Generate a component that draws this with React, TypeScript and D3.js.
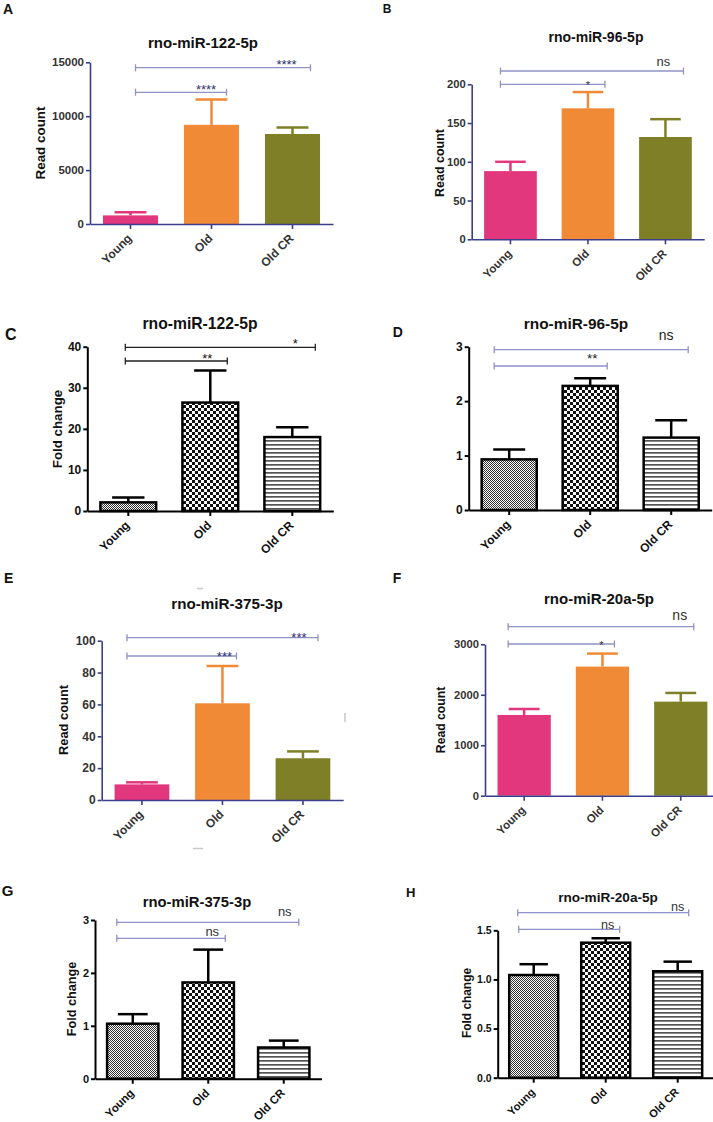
import React, { useRef, useEffect } from "react";
import * as d3 from "d3";

const groups = ["Young", "Old", "Old CR"];

// A: rno-miR-122-5p, read count
const read122 = [800, 9200, 8350];
const read122Sem = [300, 2350, 600];
const read122Ticks = [0, 5000, 10000, 15000];
const read122Sig = ["****", "****"];

// B: rno-miR-96-5p, read count
const read96 = [88, 169, 132];
const read96Sem = [12, 21, 23];
const read96Ticks = [0, 50, 100, 150, 200];
const read96Sig = ["*", "ns"];

// C: rno-miR-122-5p, fold change
const fold122 = [2.1, 26.4, 18.0];
const fold122Sem = [1.2, 7.8, 2.4];
const fold122Ticks = [0, 10, 20, 30, 40];
const fold122Sig = ["**", "*"];

// D: rno-miR-96-5p, fold change
const fold96 = [0.93, 2.28, 1.33];
const fold96Sem = [0.18, 0.14, 0.32];
const fold96Ticks = [0, 1, 2, 3];
const fold96Sig = ["**", "ns"];

// E: rno-miR-375-3p, read count
const read375 = [9.8, 60.7, 26.2];
const read375Sem = [1.3, 23.4, 4.3];
const read375Ticks = [0, 20, 40, 60, 80, 100];
const read375Sig = ["***", "***"];

// F: rno-miR-20a-5p, read count
const read20a = [1600, 2558, 1864];
const read20aSem = [118, 258, 172];
const read20aTicks = [0, 1000, 2000, 3000];
const read20aSig = ["*", "ns"];

// G: rno-miR-375-3p, fold change
const fold375 = [1.04, 1.82, 0.59];
const fold375Sem = [0.18, 0.62, 0.13];
const fold375Ticks = [0, 1, 2, 3];
const fold375Sig = ["ns", "ns"];

// H: rno-miR-20a-5p, fold change
const fold20a = [1.045, 1.374, 1.083];
const fold20aSem = [0.11, 0.045, 0.098];
const fold20aTicks = [0, 0.5, 1.0, 1.5];
const fold20aSig = ["ns", "ns"];

const barColors = ["#e2377d", "#f08a36", "#7f7f28"];
const navy = "#3a3e8c";
const bracketBlue = "#8e92c6";
const FONT = "'Liberation Sans', Arial, sans-serif";

type Bracket = { y: number; from: number; to: number; lx: number; ly: number; size: number };

interface Panel {
  letter: string; lx: number; ly: number; lsize: number;
  title: string; tx: number; ty: number; tsize: number;
  yLabel: string | null; ylx: number; yly: number; ylsize: number;
  x0: number; step: number; y0: number; yTop: number;
  ticks: number[]; fmt: string; tickSize: number; xlSize: number;
  mean: number[]; sem: number[]; sig: string[];
  pattern: boolean; bracketColor: string; sigColor: string;
  brackets: Bracket[];
}

const panels: Panel[] = [
  {
    letter: "A", lx: 3, ly: 13.5, lsize: 14,
    title: "rno-miR-122-5p", tx: 203, ty: 48, tsize: 15,
    yLabel: "Read count", ylx: 45, yly: 143, ylsize: 13.4,
    x0: 90, step: 81, y0: 224, yTop: 62.3,
    ticks: read122Ticks, fmt: "d", tickSize: 11.5, xlSize: 12,
    mean: read122, sem: read122Sem, sig: read122Sig,
    pattern: false, bracketColor: bracketBlue, sigColor: "#2e3170",
    brackets: [
      { y: 92.3, from: 5, to: 15, lx: -5.5, ly: 1.5, size: 13 },
      { y: 67.7, from: 5, to: 18, lx: -6, ly: 1, size: 13 },
    ],
  },
  {
    letter: "B", lx: 382.7, ly: 12.7, lsize: 12,
    title: "rno-miR-96-5p", tx: 596, ty: 41.7, tsize: 14,
    yLabel: "Read count", ylx: 443.5, yly: 163, ylsize: 12.5,
    x0: 471.7, step: 77.5, y0: 239.3, yTop: 84.3,
    ticks: read96Ticks, fmt: "d", tickSize: 11.2, xlSize: 11.5,
    mean: read96, sem: read96Sem, sig: read96Sig,
    pattern: false, bracketColor: bracketBlue, sigColor: "#333",
    brackets: [
      { y: 84.3, from: -10, to: 17, lx: 0, ly: 4.5, size: 11 },
      { y: 71, from: -10, to: 18, lx: -2, ly: -5, size: 13 },
    ],
  },
  {
    letter: "C", lx: 5, ly: 340, lsize: 16,
    title: "rno-miR-122-5p", tx: 200, ty: 328.5, tsize: 15.7,
    yLabel: "Fold change", ylx: 62, yly: 429, ylsize: 13.3,
    x0: 87.3, step: 82, y0: 511, yTop: 346.7,
    ticks: fold122Ticks, fmt: "d", tickSize: 12, xlSize: 12,
    mean: fold122, sem: fold122Sem, sig: fold122Sig,
    pattern: true, bracketColor: "#222", sigColor: "#111",
    brackets: [
      { y: 361, from: -3, to: 17, lx: -3, ly: 2, size: 13 },
      { y: 347.3, from: -3, to: 23, lx: 3, ly: 0.5, size: 13 },
    ],
  },
  {
    letter: "D", lx: 392.7, ly: 336.7, lsize: 14,
    title: "rno-miR-96-5p", tx: 576, ty: 329.3, tsize: 15.4,
    yLabel: null, ylx: 0, yly: 0, ylsize: 0,
    x0: 468.7, step: 81, y0: 510, yTop: 346.7,
    ticks: fold96Ticks, fmt: "d", tickSize: 12, xlSize: 12,
    mean: fold96, sem: fold96Sem, sig: fold96Sig,
    pattern: true, bracketColor: bracketBlue, sigColor: "#222",
    brackets: [
      { y: 366, from: -15, to: 17, lx: 2, ly: -3, size: 13.5 },
      { y: 349.7, from: -15, to: 17, lx: -5, ly: -9.7, size: 14 },
    ],
  },
  {
    letter: "E", lx: 4, ly: 583.3, lsize: 14,
    title: "rno-miR-375-3p", tx: 227, ty: 609.2, tsize: 15.2,
    yLabel: "Read count", ylx: 68, yly: 720, ylsize: 12.9,
    x0: 101.7, step: 80.5, y0: 800, yTop: 640.7,
    ticks: read375Ticks, fmt: "d", tickSize: 12, xlSize: 12,
    mean: read375, sem: read375Sem, sig: read375Sig,
    pattern: false, bracketColor: bracketBlue, sigColor: "#2e3170",
    brackets: [
      { y: 656, from: -15, to: 14, lx: 2, ly: 5, size: 13 },
      { y: 637.7, from: -15, to: 15, lx: -4, ly: 4.3, size: 13 },
    ],
  },
  {
    letter: "F", lx: 392.7, ly: 583, lsize: 14,
    title: "rno-miR-20a-5p", tx: 599, ty: 604, tsize: 15,
    yLabel: "Read count", ylx: 445, yly: 720, ylsize: 12.2,
    x0: 485, step: 78.3, y0: 795.7, yTop: 644.3,
    ticks: read20aTicks, fmt: "d", tickSize: 11.2, xlSize: 11.5,
    mean: read20a, sem: read20aSem, sig: read20aSig,
    pattern: false, bracketColor: bracketBlue, sigColor: "#333",
    brackets: [
      { y: 644, from: -16, to: 12, lx: -1, ly: 5, size: 11 },
      { y: 626.7, from: -16, to: 13, lx: -1, ly: -6.7, size: 14 },
    ],
  },
  {
    letter: "G", lx: 1.7, ly: 895.5, lsize: 15,
    title: "rno-miR-375-3p", tx: 197, ty: 906.6, tsize: 14.8,
    yLabel: "Fold change", ylx: 76, yly: 999, ylsize: 12.7,
    x0: 95, step: 75.5, y0: 1078.7, yTop: 920,
    ticks: fold375Ticks, fmt: "d", tickSize: 11, xlSize: 11.5,
    mean: fold375, sem: fold375Sem, sig: fold375Sig,
    pattern: true, bracketColor: bracketBlue, sigColor: "#333",
    brackets: [
      { y: 938.3, from: -16, to: 17, lx: 4, ly: -2.6, size: 13 },
      { y: 922.3, from: -16, to: 15, lx: 1, ly: -6.6, size: 13 },
    ],
  },
  {
    letter: "H", lx: 406, ly: 896.7, lsize: 13,
    title: "rno-miR-20a-5p", tx: 608, ty: 901.5, tsize: 13.6,
    yLabel: "Fold change", ylx: 471.4, yly: 1003, ylsize: 11.9,
    x0: 497.7, step: 72, y0: 1077.7, yTop: 930.3,
    ticks: fold20aTicks, fmt: ".1f", tickSize: 10.5, xlSize: 11,
    mean: fold20a, sem: fold20aSem, sig: fold20aSig,
    pattern: true, bracketColor: bracketBlue, sigColor: "#333",
    brackets: [
      { y: 929.3, from: -15, to: 14, lx: 2, ly: -0.6, size: 12.6 },
      { y: 912.7, from: -16, to: 11, lx: 0, ly: -2, size: 12.6 },
    ],
  },
];

const patternIds = ["pat-fine", "pat-check", "pat-lines"];

function drawPanel(svg: d3.Selection<SVGSVGElement, unknown, null, undefined>, p: Panel) {
  const g = svg.append("g");
  const axisColor = p.pattern ? "#000" : navy;
  const textColor = p.pattern ? "#111" : "#333";
  const sw = p.pattern ? 2 : 1.6;

  const x = d3
    .scaleBand<string>()
    .domain(groups)
    .range([p.x0, p.x0 + 3 * p.step])
    .paddingInner(0.32)
    .paddingOuter(0.16);
  const y = d3
    .scaleLinear()
    .domain([0, p.ticks[p.ticks.length - 1]])
    .range([p.y0, p.yTop]);
  const cx = (i: number) => (x(groups[i]) as number) + x.bandwidth() / 2;
  const cap = x.bandwidth() * 0.58;

  // error bars (upper only)
  const rows = groups.map((name, i) => ({ name, i, v: p.mean[i], e: p.sem[i] }));
  const errCol = (d: { i: number }) => (p.pattern ? "#000" : barColors[d.i]);
  g.selectAll("line.stem")
    .data(rows)
    .join("line")
    .attr("x1", (d) => cx(d.i))
    .attr("x2", (d) => cx(d.i))
    .attr("y1", (d) => y(d.v))
    .attr("y2", (d) => y(d.v + d.e))
    .attr("stroke", errCol)
    .attr("stroke-width", 2.5);
  g.selectAll("line.cap")
    .data(rows)
    .join("line")
    .attr("x1", (d) => cx(d.i) - cap / 2)
    .attr("x2", (d) => cx(d.i) + cap / 2)
    .attr("y1", (d) => y(d.v + d.e))
    .attr("y2", (d) => y(d.v + d.e))
    .attr("stroke", errCol)
    .attr("stroke-width", 2.5);

  // bars
  g.selectAll("rect.bar")
    .data(rows)
    .join("rect")
    .attr("x", (d) => x(d.name) as number)
    .attr("y", (d) => y(d.v))
    .attr("width", x.bandwidth())
    .attr("height", (d) => p.y0 - y(d.v))
    .attr("fill", (d) => (p.pattern ? `url(#${patternIds[d.i]})` : barColors[d.i]))
    .attr("stroke", p.pattern ? "#000" : "none")
    .attr("stroke-width", 2.5);

  // y axis
  const ya = g
    .append("g")
    .attr("transform", `translate(${p.x0},0)`)
    .call(
      d3
        .axisLeft(y)
        .tickValues(p.ticks)
        .tickFormat(d3.format(p.fmt) as any)
        .tickSize(4)
        .tickSizeOuter(0)
        .tickPadding(2)
    );
  ya.select(".domain").attr("stroke", axisColor).attr("stroke-width", sw);
  ya.selectAll(".tick line").attr("stroke", axisColor).attr("stroke-width", sw);
  ya.selectAll(".tick text")
    .attr("fill", textColor)
    .attr("font-size", p.tickSize)
    .attr("font-weight", "bold")
    .attr("font-family", FONT);

  // x axis
  const xa = g
    .append("g")
    .attr("transform", `translate(0,${p.y0})`)
    .call(d3.axisBottom(x).tickSize(5).tickSizeOuter(0));
  xa.select(".domain").attr("stroke", axisColor).attr("stroke-width", sw);
  xa.selectAll(".tick line").attr("stroke", axisColor).attr("stroke-width", sw);
  xa.selectAll(".tick text")
    .attr("x", 0)
    .attr("y", 0)
    .attr("dy", 0)
    .attr("text-anchor", "end")
    .attr("transform", "translate(2,15) rotate(-45)")
    .attr("fill", textColor)
    .attr("font-size", p.xlSize)
    .attr("font-weight", "bold")
    .attr("font-family", FONT);

  // significance brackets
  p.brackets.forEach((b, k) => {
    const xs = cx(0) + b.from;
    const xe = cx(k + 1) + b.to;
    g.append("path")
      .attr("d", `M${xs},${b.y - 3.5}V${b.y + 3.5}M${xs},${b.y}H${xe}M${xe},${b.y - 3.5}V${b.y + 3.5}`)
      .attr("fill", "none")
      .attr("stroke", p.bracketColor)
      .attr("stroke-width", 1.3);
    g.append("text")
      .attr("x", cx(k + 1) + b.lx)
      .attr("y", b.y + b.ly)
      .attr("text-anchor", "middle")
      .attr("font-family", FONT)
      .attr("font-size", b.size)
      .attr("fill", p.sigColor)
      .text(p.sig[k]);
  });

  // title, letter, y label
  g.append("text")
    .attr("x", p.tx)
    .attr("y", p.ty)
    .attr("text-anchor", "middle")
    .attr("font-family", FONT)
    .attr("font-weight", "bold")
    .attr("font-size", p.tsize)
    .attr("fill", "#111")
    .text(p.title);
  g.append("text")
    .attr("x", p.lx)
    .attr("y", p.ly)
    .attr("font-family", FONT)
    .attr("font-weight", "bold")
    .attr("font-size", p.lsize)
    .attr("fill", "#111")
    .text(p.letter);
  if (p.yLabel) {
    g.append("text")
      .attr("transform", `translate(${p.ylx},${p.yly}) rotate(-90)`)
      .attr("text-anchor", "middle")
      .attr("font-family", FONT)
      .attr("font-weight", "bold")
      .attr("font-size", p.ylsize)
      .attr("fill", "#111")
      .text(p.yLabel);
  }
}

export default function App() {
  const ref = useRef<SVGSVGElement>(null);

  useEffect(() => {
    if (!ref.current) return;
    const svg = d3.select(ref.current);
    svg.selectAll("*").remove();
    svg.append("rect").attr("width", 713).attr("height", 1122).attr("fill", "#fff");

    const defs = svg.append("defs");
    const fine = defs.append("pattern").attr("id", "pat-fine").attr("patternUnits", "userSpaceOnUse").attr("width", 2).attr("height", 2);
    fine.append("rect").attr("width", 2).attr("height", 2).attr("fill", "#fff");
    fine.append("rect").attr("width", 1).attr("height", 1).attr("fill", "#333");
    fine.append("rect").attr("x", 1).attr("y", 1).attr("width", 1).attr("height", 1).attr("fill", "#333");
    const check = defs.append("pattern").attr("id", "pat-check").attr("patternUnits", "userSpaceOnUse").attr("width", 6).attr("height", 6);
    check.append("rect").attr("width", 6).attr("height", 6).attr("fill", "#fff");
    check.append("rect").attr("width", 3).attr("height", 3).attr("fill", "#111");
    check.append("rect").attr("x", 3).attr("y", 3).attr("width", 3).attr("height", 3).attr("fill", "#111");
    const lines = defs.append("pattern").attr("id", "pat-lines").attr("patternUnits", "userSpaceOnUse").attr("width", 4).attr("height", 4);
    lines.append("rect").attr("width", 4).attr("height", 4).attr("fill", "#fff");
    lines.append("rect").attr("width", 4).attr("height", 1.7).attr("fill", "#555");

    panels.forEach((p) => drawPanel(svg as any, p));

    // faint scan marks around panel E
    svg.append("path")
      .attr("d", "M197,588.5H203M345,713V722M193,848.5H203")
      .attr("stroke", "#c8c8c8")
      .attr("stroke-width", 1.5);
  }, []);

  return (
    <svg
      ref={ref}
      width={713}
      height={1122}
      style={{ position: "absolute", left: 0, top: 0, display: "block" }}
    ></svg>
  );
}
